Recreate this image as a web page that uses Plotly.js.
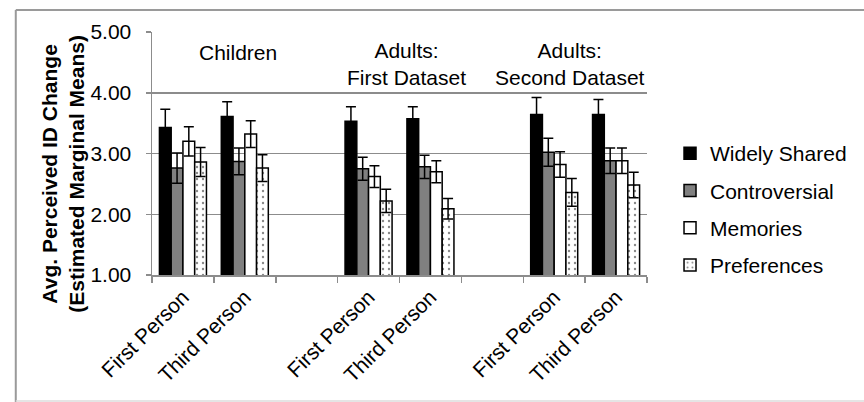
<!DOCTYPE html>
<html>
<head>
<meta charset="utf-8">
<script src="https://cdn.plot.ly/plotly-3.0.1.min.js"></script>
<style>
  html, body { margin: 0; padding: 0; background: #fff; }
  #chart { width: 864px; height: 402px; }
</style>
</head>
<body>
<div id="chart"></div>
<script>
// Category slots (including two empty spacer slots between groups)
const categoryKeys   = ["C-First", "C-Third", "gap1", "A1-First", "A1-Third", "gap2", "A2-First", "A2-Third"];
const categoryLabels = ["First Person", "Third Person", "", "First Person", "Third Person", "", "First Person", "Third Person"];
// Categories that carry data
const dataCategories = ["C-First", "C-Third", "A1-First", "A1-Third", "A2-First", "A2-Third"];

// Group headings
const groupLabels = ["Children", "Adults:<br>First Dataset", "Adults:<br>Second Dataset"];

// Series names
const seriesNames = ["Widely Shared", "Controversial", "Memories", "Preferences"];

// Values (estimated marginal means) and error bar half-lengths
const widelyShared    = [3.43, 3.61, 3.53, 3.57, 3.64, 3.64];
const widelySharedErr = [0.30, 0.24, 0.24, 0.20, 0.28, 0.25];
const controversial    = [2.76, 2.87, 2.75, 2.78, 3.02, 2.88];
const controversialErr = [0.25, 0.22, 0.19, 0.19, 0.23, 0.21];
const memories    = [3.20, 3.32, 2.62, 2.70, 2.82, 2.88];
const memoriesErr = [0.24, 0.22, 0.18, 0.18, 0.21, 0.21];
const preferences    = [2.86, 2.76, 2.22, 2.09, 2.36, 2.48];
const preferencesErr = [0.24, 0.22, 0.19, 0.17, 0.23, 0.21];

const FONT = "Liberation Sans, Arial, Helvetica, sans-serif";
const FS = 21;
const GRID = "#8c8c8c";

function barTrace(name, y, err, marker, group) {
  return {
    type: "bar",
    name: name,
    x: dataCategories,
    y: y,
    legendgroup: group,
    marker: Object.assign({ line: { color: "#000", width: 1.5 } }, marker),
    error_y: { type: "data", array: err, visible: true, color: "#000", thickness: 1.5, width: 5 },
    hoverinfo: "x+y+name"
  };
}

const traces = [
  barTrace(seriesNames[0], widelyShared, widelySharedErr, { color: "#000000" }, "g1"),
  barTrace(seriesNames[1], controversial, controversialErr, { color: "#808080" }, "g2"),
  barTrace(seriesNames[2], memories, memoriesErr, { color: "#ffffff" }, "g3"),
  barTrace(seriesNames[3], preferences, preferencesErr, {
    color: "#ffffff",
    pattern: { shape: ".", fgcolor: "#888888", bgcolor: "#ffffff", size: 6, solidity: 0.12 }
  }, "g4")
];

const PL = 152, PR = 668, PT = 32, PB = 275;
const PW = PR - PL, PH = PB - PT;
const px = v => (v - PL) / PW;
const py = v => (PB - v) / PH;

const layout = {
  width: 864, height: 402,
  margin: { l: PL, r: 864 - PR, t: PT, b: 402 - PB, pad: 0 },
  paper_bgcolor: "#ffffff",
  plot_bgcolor: "#ffffff",
  font: { family: FONT, size: FS, color: "#000" },
  barmode: "group",
  bargap: 0.24,
  bargroupgap: 0,
  showlegend: true,
  legend: {
    x: px(692), xanchor: "left",
    y: py(133), yanchor: "top",
    font: { family: FONT, size: FS, color: "#000" },
    traceorder: "grouped",
    tracegroupgap: 7,
    bgcolor: "rgba(0,0,0,0)"
  },
  xaxis: {
    type: "category",
    categoryorder: "array",
    categoryarray: categoryKeys,
    tickmode: "array",
    tickvals: categoryKeys,
    ticktext: categoryLabels,
    tickson: "boundaries",
    ticks: "outside",
    ticklen: 6,
    tickcolor: GRID,
    tickwidth: 1.5,
    tickangle: -45,
    tickfont: { family: FONT, size: FS, color: "#000" },
    showline: true,
    linecolor: GRID,
    linewidth: 1.5,
    showgrid: false,
    zeroline: false,
    automargin: false,
    range: [-0.5, 7.5],
    fixedrange: true
  },
  yaxis: {
    range: [1, 5],
    tickmode: "linear",
    tick0: 1,
    dtick: 1,
    tickformat: ".2f",
    ticks: "outside",
    ticklen: 5,
    tickcolor: GRID,
    tickwidth: 1.5,
    ticklabelstandoff: 10,
    tickfont: { family: FONT, size: FS, color: "#000" },
    showline: true,
    linecolor: GRID,
    linewidth: 1.5,
    showgrid: true,
    gridcolor: GRID,
    gridwidth: 1.5,
    zeroline: false,
    automargin: false,
    fixedrange: true
  },
  annotations: [
    { text: "<b>Avg. Perceived ID Change<br>(Estimated Marginal Means)</b>",
      xref: "paper", yref: "paper", x: px(59), y: py(174),
      xanchor: "center", yanchor: "middle", textangle: -90, showarrow: false,
      font: { family: FONT, size: FS, color: "#000" } },
    { text: groupLabels[0], xref: "paper", yref: "paper", x: px(242), y: py(39),
      xanchor: "center", yanchor: "top", showarrow: false,
      font: { family: FONT, size: FS, color: "#000" } },
    { text: groupLabels[1], xref: "paper", yref: "paper", x: px(417), y: py(37),
      xanchor: "center", yanchor: "top", showarrow: false,
      font: { family: FONT, size: FS, color: "#000" } },
    { text: groupLabels[2], xref: "paper", yref: "paper", x: px(588), y: py(37),
      xanchor: "center", yanchor: "top", showarrow: false,
      font: { family: FONT, size: FS, color: "#000" } }
  ],
  shapes: [
    { type: "line", xref: "paper", yref: "paper", layer: "below",
      x0: px(10), x1: px(1200), y0: py(10), y1: py(10),
      line: { color: "#9a9a9a", width: 2 } },
    { type: "line", xref: "paper", yref: "paper", layer: "below",
      x0: px(10), x1: px(10), y0: py(10), y1: py(402),
      line: { color: "#9a9a9a", width: 2 } },
    { type: "line", xref: "paper", yref: "paper", layer: "below",
      x0: px(10), x1: px(1200), y0: py(401), y1: py(401),
      line: { color: "#dddddd", width: 1.5 } }
  ]
};

Plotly.newPlot("chart", traces, layout, { displayModeBar: false, staticPlot: true });
</script>
</body>
</html>
